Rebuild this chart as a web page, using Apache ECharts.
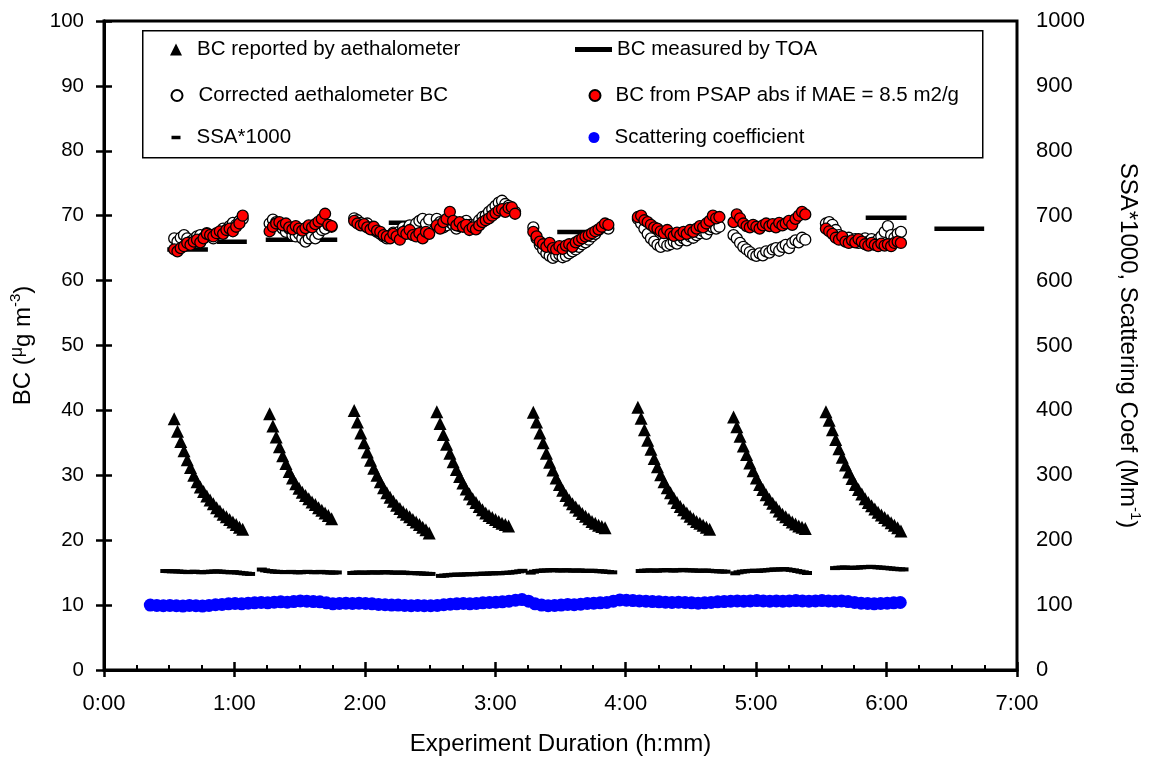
<!DOCTYPE html>
<html><head><meta charset="utf-8">
<script src="https://cdn.jsdelivr.net/npm/echarts@6/dist/echarts.min.js"></script>
<style>html,body{margin:0;padding:0;background:#fff}#c{width:1151px;height:761px}</style>
</head><body><div id="c"></div>
<script>
// ---------- DATA (time in minutes from start) ----------
const STEP = 1.5;            // sampling step of aethalometer / PSAP / SSA records (min)
const SCAT_STEP = 3;         // sampling step of scattering record (min)

// segment start times for aethalometer / corrected / PSAP series
const segStart = [32.3, 76.2, 115.1, 153.1, 197.5, 245.6, 289.6, 332.1];

// BC reported by aethalometer (µg m-3)
const aethBC = [
  [38.7,36.8,35.2,33.8,32.4,31.2,30.0,29.0,28.2,27.5,26.8,26.2,25.6,25.0,24.5,24.0,23.6,23.2,22.8,22.4,22.0,21.7],
  [39.5,37.6,35.9,34.4,33.0,31.8,30.6,29.6,28.7,28.0,27.4,26.9,26.4,25.9,25.5,25.0,24.6,24.2,23.8,23.3],
  [40.0,38.2,36.5,35.0,33.6,32.3,31.1,30.0,29.0,28.1,27.3,26.6,26.0,25.4,24.9,24.4,24.0,23.6,23.2,22.8,22.4,22.0,21.6,21.1],
  [39.8,38.0,36.3,34.8,33.4,32.1,30.9,29.8,28.8,27.9,27.1,26.4,25.8,25.2,24.7,24.2,23.8,23.5,23.2,22.9,22.6,22.4,22.2],
  [39.7,38.2,36.5,35.0,33.4,32.0,30.8,29.6,28.6,27.7,26.9,26.2,25.6,25.1,24.6,24.1,23.7,23.3,22.9,22.6,22.3,22.1,21.9],
  [40.5,38.8,37.0,35.4,34.0,32.6,31.3,30.1,29.0,28.1,27.3,26.5,25.8,25.2,24.7,24.2,23.7,23.3,22.9,22.6,22.3,22.0,21.7],
  [39.0,37.5,36.0,34.5,33.2,31.9,30.7,29.6,28.6,27.8,27.0,26.3,25.7,25.1,24.5,24.0,23.6,23.2,22.8,22.5,22.2,22.0,21.8],
  [39.8,38.5,37.0,35.5,34.1,32.8,31.6,30.5,29.5,28.6,27.8,27.1,26.4,25.8,25.3,24.8,24.3,23.9,23.5,23.1,22.7,22.3,21.9,21.4]
];

// Corrected aethalometer BC
const corrBC = [
  [66.5,66.0,66.6,67.0,66.5,66.0,66.4,66.8,67.0,66.6,67.3,67.0,66.5,67.2,67.5,68.0,67.8,68.4,68.9,68.6,69.2,69.5],
  [68.8,69.4,69.0,68.5,68.0,67.5,68.0,67.0,66.8,67.2,66.5,66.0,66.5,67.0,66.5,67.2,67.8,68.0,68.6,68.3],
  [69.6,69.3,68.9,68.5,68.8,68.2,67.8,67.5,67.2,66.8,66.5,66.9,67.4,67.0,67.6,68.2,67.8,68.5,68.0,68.8,69.2,69.5,68.8,69.4],
  [69.5,69.0,68.2,68.5,69.0,68.6,68.0,68.4,68.8,69.2,68.6,68.2,68.7,69.3,69.8,70.0,70.6,71.0,71.5,72.0,72.3,71.8,71.5,71.0,70.6],
  [68.2,66.5,65.5,64.8,64.2,63.8,63.5,63.8,64.0,63.6,63.8,64.2,64.5,64.8,65.2,65.6,65.9,66.3,66.8,67.2,67.8,68.2,68.5,68.0],
  [69.5,68.8,68.0,67.2,66.5,66.0,65.5,65.2,65.8,65.4,65.6,66.0,65.7,66.2,66.5,66.2,66.8,66.6,67.0,67.3,67.6,67.2,67.9,68.2,68.0,68.3],
  [67.0,66.5,65.8,65.2,64.8,64.4,64.0,63.8,64.2,63.9,64.5,64.3,64.8,65.0,64.6,65.2,65.5,65.0,65.8,66.2,65.9,66.6,66.3],
  [68.8,69.0,68.6,67.8,67.0,66.5,66.2,66.6,66.0,66.4,65.8,66.2,66.5,66.0,66.4,65.9,66.3,66.8,67.5,68.4,67.0,66.6,67.2,67.5]
];

// BC from PSAP absorption if MAE = 8.5 m2/g
const psapBC = [
  [64.8,64.5,65.0,65.3,65.8,65.5,66.0,66.3,65.9,66.5,67.2,67.0,66.8,67.3,67.6,67.2,67.8,68.0,67.6,68.3,68.8,70.0],
  [67.6,68.3,68.8,69.0,68.5,68.8,68.2,67.9,68.4,68.0,67.7,68.1,68.5,68.2,68.7,69.1,69.5,70.3,68.6,68.4],
  [69.2,68.8,68.5,68.7,68.2,67.9,68.3,67.7,67.5,67.0,66.8,66.5,67.2,66.8,66.3,67.5,67.2,67.8,67.0,66.8,67.3,66.5,67.5,67.2],
  [68.5,68.0,69.0,69.5,70.6,69.2,68.5,69.0,68.3,68.6,67.8,68.2,67.9,68.5,69.0,69.3,69.6,70.0,70.4,70.8,71.0,70.6,71.2,71.3,70.3],
  [67.5,66.8,66.0,65.6,65.2,65.8,65.0,64.8,65.3,64.9,65.4,65.6,65.2,65.9,66.2,66.5,66.8,67.0,67.3,67.6,67.9,68.3,68.8,68.6],
  [69.8,70.0,69.3,69.0,68.6,68.2,68.0,67.6,67.3,67.8,67.2,66.9,67.4,67.0,67.5,67.2,67.8,67.5,68.0,68.4,68.2,68.8,69.2,70.0,69.6,69.8],
  [69.0,70.2,69.6,68.8,68.4,68.2,68.6,68.3,68.0,68.5,68.8,68.4,68.7,68.2,68.9,68.5,68.8,69.2,68.6,69.5,70.0,70.6,70.2],
  [68.0,67.6,67.2,66.6,66.3,66.8,66.0,65.8,66.2,65.9,66.4,66.0,65.6,65.4,65.8,65.5,65.3,65.7,65.4,65.6,65.3,65.8,66.0,65.8]
];

// BC measured by TOA (horizontal bars: start, end, value)
const toaStart = [29.1, 52.0, 74.4, 131.0, 208.5, 350.4, 382.0];
const toaEnd   = [47.8, 65.7, 107.3, 145.8, 223.2, 369.2, 404.9];
const toaValue = [64.8, 66.0, 66.3, 68.9, 67.5, 69.7, 68.0];

// SSA*1000 (right axis)
const ssaStart = [28.2, 72.6, 114.2, 155.0, 196.3, 246.9, 290.4, 336.3];
const ssaVal = [
  [152.5,152.3,152.0,152.2,151.8,151.5,151.0,150.8,151.2,151.5,151.0,150.6,150.8,151.2,151.5,151.8,152.0,151.6,151.2,150.8,150.5,150.8,150.2,149.6,149.0,148.5,148.0],
  [154.8,153.5,152.5,152.0,151.5,151.2,151.0,150.8,151.0,151.2,150.8,150.5,150.6,151.0,151.3,151.0,150.6,150.8,151.2,150.8,150.4,150.2,150.0,150.3],
  [149.5,150.0,150.3,150.0,149.8,150.2,150.5,150.3,150.0,150.4,150.8,150.5,150.2,150.0,149.8,150.2,150.0,149.6,149.2,149.5,149.0,148.8,148.5,148.2,148.0],
  [145.0,145.5,146.0,146.5,146.8,147.0,146.8,147.2,147.5,147.8,147.5,148.0,148.2,148.5,148.3,148.8,149.0,149.2,149.0,149.5,149.8,150.0,150.5,151.2,152.0,152.8],
  [150.0,151.5,152.5,153.0,153.5,153.2,153.8,154.0,153.6,153.2,153.5,153.8,153.4,153.0,153.2,153.5,153.0,152.6,152.8,153.0,152.5,152.2,152.0,151.5,151.0,150.5],
  [152.5,153.0,153.3,153.5,153.2,153.0,153.4,153.8,154.0,153.6,153.2,153.5,153.8,154.2,153.8,153.4,153.6,153.2,152.8,153.0,153.3,152.9,152.5,152.2,152.0,151.8,151.5],
  [149.0,150.5,151.5,152.0,152.5,152.8,153.0,152.6,153.2,153.5,154.0,154.5,155.0,154.6,155.2,155.5,155.0,154.2,153.5,152.5,151.5,150.5,149.5],
  [157.0,157.5,157.8,158.0,157.6,157.3,157.5,157.8,158.2,158.5,158.8,159.0,158.6,158.2,157.8,157.5,157.0,156.5,156.0,155.5,155.2,155.0]
];

// Scattering coefficient (Mm-1, right axis)
const scatStart = 21.3;
const scatVal = [
  100,99.5,99,99.5,99,98.5,99.5,99,98.5,99.5,100.5,101,102,102.5,102,103,103.5,104,103.5,104.5,
  105,104.5,105.5,106.5,106,105.5,105,103.5,102,102.5,103,102.5,103,102.5,102,101,100.5,100,100,99.5,
  99,99.5,99,99,99.5,100.5,101.5,102,102.5,102,102.5,103.5,104,104.5,105,106,107.5,108.5,106,102,
  100,99,99.5,100,101,100.5,101.5,102.5,103,103.5,104,106,108,107.5,107,106.5,106,105.5,105,104.5,
  104,104.5,104,103.5,103,103.5,104,105,105.5,106,106.5,106,106.5,107,106.5,106,106.5,106,106.5,107,
  106.5,106,106.5,107,106.5,106,106.5,105.5,104,103,102.5,102,102.5,103,103.5,104
];

// axis ticks
const xTicksMin = 0, xTicksMax = 420, xTickStep = 60;
const leftMax = 100, leftStep = 10, rightMax = 1000, rightStep = 100;

// ---------- BUILD ----------
function segData(starts, segs, step) {
  const out = [];
  segs.forEach((arr, k) => arr.forEach((v, i) => out.push([+(starts[k] + i * step).toFixed(2), v])));
  return out;
}
const toaData = [];
toaStart.forEach((s, i) => { toaData.push([s, toaValue[i]], [toaEnd[i], toaValue[i]], [toaEnd[i], '-']); });
const scatData = scatVal.map((v, i) => [+(scatStart + i * SCAT_STEP).toFixed(2), v]);

const FONT = '"Liberation Sans", Arial, sans-serif';
const fmt = v => Math.floor(v / 60) + ':' + String(v % 60).padStart(2, '0');
const legText = (pad) => ({ fontFamily: FONT, fontSize: 20.5, color: '#000', padding: [0, 0, 0, pad] });
const row = [39, 85, 127];

const chart = echarts.init(document.getElementById('c'), null, { renderer: 'canvas' });
chart.setOption({
  animation: false,
  backgroundColor: '#fff',
  textStyle: { fontFamily: FONT },
  grid: { left: 104, right: 130, top: 21, bottom: 91, show: true, borderColor: '#000', borderWidth: 3, backgroundColor: 'transparent' },
  graphic: [{
    type: 'rect', left: 142, top: 30, z: 1, silent: true,
    shape: { width: 840, height: 127 },
    style: { fill: '#fff', stroke: '#000', lineWidth: 1.5 }
  }],
  legend: [
    { selectedMode: false, left: 170, top: row[0], padding: 0, itemWidth: 12, itemHeight: 12, z: 5,
      data: [{ name: 'BC reported by aethalometer', icon: 'triangle' }], textStyle: legText(10) },
    { selectedMode: false, left: 170.5, top: row[1], padding: 0, itemWidth: 11, itemHeight: 11, z: 5,
      data: [{ name: 'Corrected aethalometer BC', icon: 'circle' }], textStyle: legText(11) },
    { selectedMode: false, left: 171.5, top: row[2], padding: 0, itemWidth: 9, itemHeight: 3.5, z: 5,
      data: [{ name: 'SSA*1000', icon: 'rect' }], textStyle: legText(11) },
    { selectedMode: false, left: 575, top: row[0], padding: 0, itemWidth: 37, itemHeight: 5, z: 5,
      data: [{ name: 'BC measured by TOA', icon: 'rect', itemStyle: { color: '#000' } }], textStyle: legText(0) },
    { selectedMode: false, left: 588.5, top: row[1], padding: 0, itemWidth: 11, itemHeight: 11, z: 5,
      data: [{ name: 'BC from PSAP abs if MAE = 8.5 m2/g', icon: 'circle' }], textStyle: legText(10) },
    { selectedMode: false, left: 588.5, top: row[2], padding: 0, itemWidth: 11, itemHeight: 11, z: 5,
      data: [{ name: 'Scattering coefficient', icon: 'circle' }], textStyle: legText(10) }
  ],
  xAxis: [{
    type: 'value', min: xTicksMin, max: xTicksMax, interval: xTickStep,
    name: 'Experiment Duration (h:mm)', nameLocation: 'middle', nameGap: 62,
    nameTextStyle: { fontSize: 24, color: '#000', fontFamily: FONT },
    axisLine: { show: true, onZero: false, lineStyle: { color: '#000', width: 3 } },
    axisTick: { show: true, inside: true, length: 8, lineStyle: { color: '#000', width: 2.5 } },
    minorTick: { show: true, splitNumber: 4, length: 5, lineStyle: { color: '#000', width: 2 } },
    axisLabel: { formatter: fmt, fontSize: 22, color: '#000', margin: 23, fontFamily: FONT },
    splitLine: { show: false }
  }, {
    type: 'value', min: xTicksMin, max: xTicksMax, interval: xTickStep, position: 'bottom',
    axisLine: { show: false }, axisLabel: { show: false }, splitLine: { show: false },
    axisTick: { show: true, inside: false, length: 7, lineStyle: { color: '#000', width: 2.5 } }
  }],
  yAxis: [{
    type: 'value', min: 0, max: leftMax, interval: leftStep, position: 'left',
    name: '{a|BC (}{u|μ}{a|g m}{s|-3}{a|)}', nameLocation: 'middle', nameGap: 66, nameRotate: 90,
    nameTextStyle: { color: '#000', rich: {
      a: { fontSize: 24, color: '#000', fontFamily: FONT, lineHeight: 30 },
      u: { fontSize: 18, color: '#000', fontFamily: FONT, lineHeight: 30, verticalAlign: 'top' },
      s: { fontSize: 15, color: '#000', fontFamily: FONT, lineHeight: 16, verticalAlign: 'top' } } },
    axisLine: { show: true, lineStyle: { color: '#000', width: 3 } },
    axisTick: { show: true, inside: true, length: 8, lineStyle: { color: '#000', width: 2.5 } },
    axisLabel: { fontSize: 20.5, color: '#000', margin: 20, fontFamily: FONT },
    splitLine: { show: false }
  }, {
    type: 'value', min: 0, max: rightMax, interval: rightStep, position: 'right',
    name: '{a|SSA*1000, Scattering Coef (Mm}{s|-1}{a|)}', nameLocation: 'middle', nameGap: 96, nameRotate: -90,
    nameTextStyle: { color: '#000', rich: {
      a: { fontSize: 24, color: '#000', fontFamily: FONT, lineHeight: 30 },
      s: { fontSize: 15, color: '#000', fontFamily: FONT, lineHeight: 16, verticalAlign: 'top' } } },
    axisLine: { show: true, lineStyle: { color: '#000', width: 3 } },
    axisTick: { show: true, inside: true, length: 8, lineStyle: { color: '#000', width: 2.5 } },
    axisLabel: { fontSize: 22, color: '#000', margin: 19, fontFamily: FONT, formatter: v => String(v) },
    splitLine: { show: false }
  }],
  series: [
    { name: 'BC reported by aethalometer', type: 'scatter', xAxisIndex: 0, yAxisIndex: 0,
      symbol: 'triangle', symbolSize: 13, itemStyle: { color: '#000', opacity: 1 }, data: segData(segStart, aethBC, STEP), z: 2 },
    { name: 'BC measured by TOA', type: 'line', xAxisIndex: 0, yAxisIndex: 0, showSymbol: false, symbol: 'none',
      connectNulls: false, lineStyle: { color: '#000', width: 4.5 }, itemStyle: { color: '#000' }, data: toaData, z: 2 },
    { name: 'Corrected aethalometer BC', type: 'scatter', xAxisIndex: 0, yAxisIndex: 0,
      symbol: 'circle', symbolSize: 11, itemStyle: { color: '#fff', borderColor: '#000', borderWidth: 1.3, opacity: 1 },
      data: segData(segStart, corrBC, STEP), z: 2 },
    { name: 'BC from PSAP abs if MAE = 8.5 m2/g', type: 'scatter', xAxisIndex: 0, yAxisIndex: 0,
      symbol: 'circle', symbolSize: 11, itemStyle: { color: '#ff0000', borderColor: '#000', borderWidth: 1.3, opacity: 1 },
      data: segData(segStart, psapBC, STEP), z: 2 },
    { name: 'SSA*1000', type: 'scatter', xAxisIndex: 0, yAxisIndex: 1,
      symbol: 'rect', symbolSize: [10, 4], itemStyle: { color: '#000', opacity: 1 },
      data: segData(ssaStart, ssaVal, STEP), z: 2 },
    { name: 'Scattering coefficient', type: 'scatter', xAxisIndex: 0, yAxisIndex: 1,
      symbol: 'circle', symbolSize: 13, itemStyle: { color: '#0000ff', opacity: 1 },
      data: scatData, z: 2 }
  ]
});
</script></body></html>
